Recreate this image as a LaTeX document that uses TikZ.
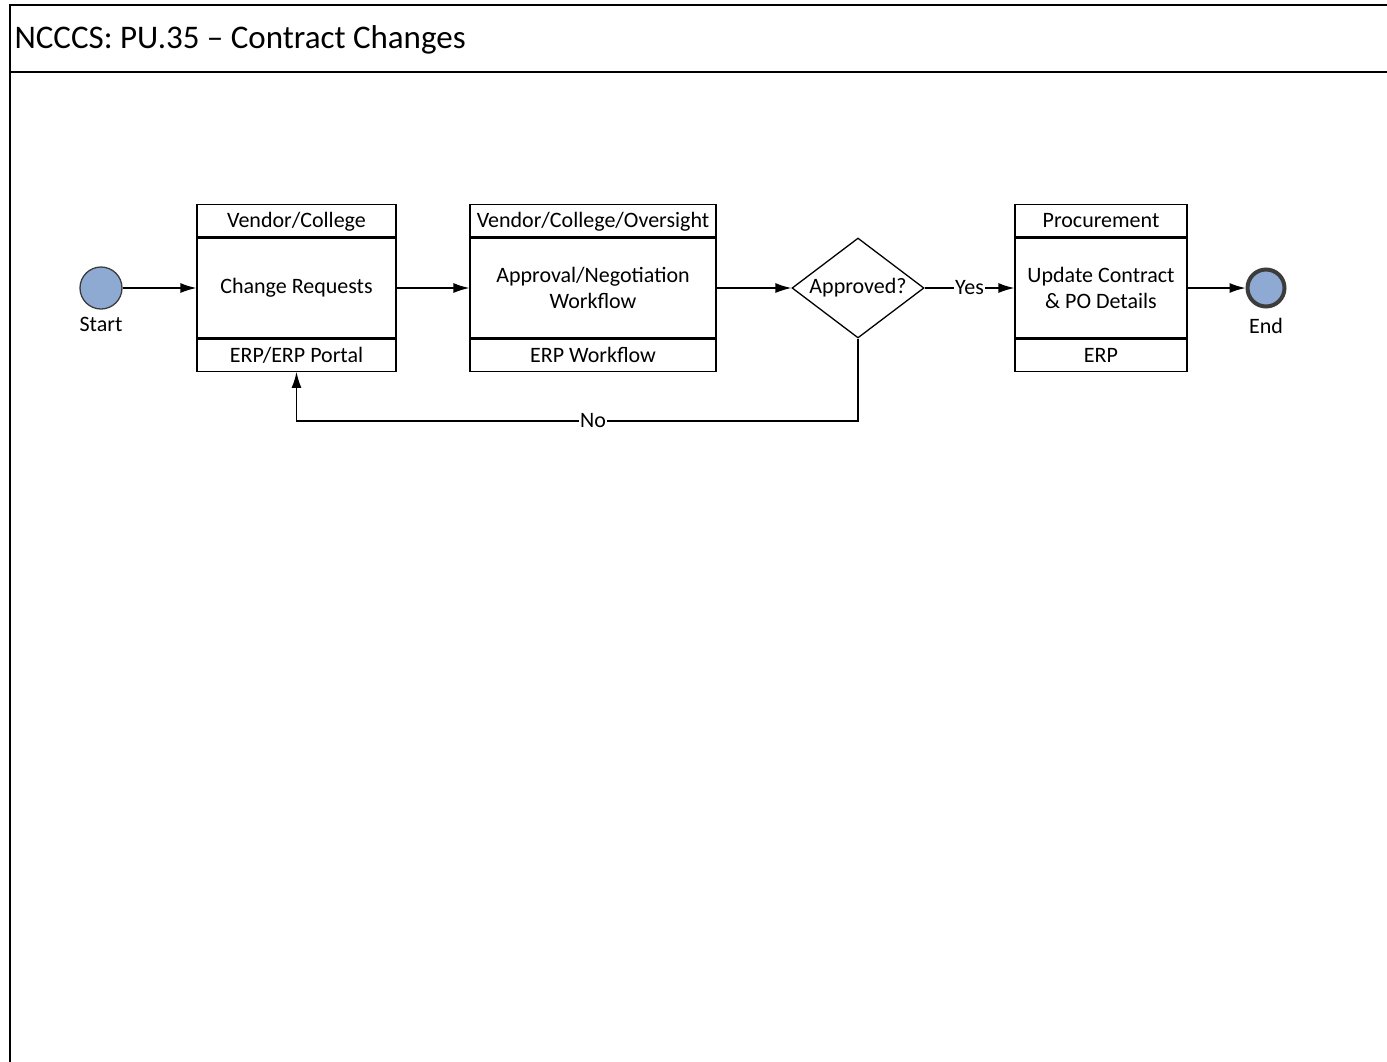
\documentclass[tikz,border=0pt]{standalone}
\usepackage{fontspec}
\setmainfont{Carlito}
\usetikzlibrary{positioning,shapes.geometric,arrows.meta}

\definecolor{evblue}{RGB}{143,170,210}
\definecolor{evrim}{RGB}{60,60,60}

\begin{document}
\begin{tikzpicture}[x=1pt,y=-1pt,
  every node/.style={font=\fontsize{22}{25.5}\selectfont},
  task/.style={draw,line width=1.3pt,minimum height=100pt,inner sep=2pt,align=center},
  band/.style={draw,line width=1.3pt,minimum height=32pt,inner sep=0pt,text height=14pt,text depth=0pt},
  flow/.style={draw,line width=1.3pt,-{Latex[length=16pt,width=10pt]}},
  event/.style={circle,draw,fill=evblue,minimum size=42pt,inner sep=0pt}]
\clip (0,0) rectangle (1387,1061);

% frame and title
\draw[line width=1.5pt,fill=white] (10,5) rectangle (1400,1080);
\draw[line width=2.5pt] (10,5) -- (1400,5);
\draw[line width=1.3pt] (10,72) -- (1400,72);
\node[anchor=west,font=\fontsize{33}{38}\selectfont] (title) at (11,39.5) {NCCCS: PU.35 -- Contract Changes};

% start and end events
\node[event,draw=evrim,line width=1.3pt,label={[label distance=4pt]below:Start}] (start) at (101,288) {};
\node[event,draw=evrim,line width=4pt,minimum size=37pt,label={[label distance=6pt]below:End}] (end) at (1266,288) {};

% tasks with lane header and system footer
\node[task,minimum width=199pt] (cr) at (296.5,288) {Change Requests};
\node[band,minimum width=199pt,above=0pt of cr] (cr-head) {Vendor/College};
\node[band,minimum width=199pt,below=0pt of cr] (cr-foot) {ERP/ERP Portal};
\draw[line width=3pt] (cr.south west) -- (cr.south east);

\node[task,minimum width=246pt] (apv) at (593,288) {Approval/Negotiation\\Workflow};
\node[band,minimum width=246pt,above=0pt of apv] (apv-head) {Vendor/College/Oversight};
\node[band,minimum width=246pt,below=0pt of apv] (apv-foot) {ERP Workflow};
\draw[line width=3pt] (apv.south west) -- (apv.south east);

\node[task,minimum width=172pt] (upd) at (1101,288) {Update Contract\\\& PO Details};
\node[band,minimum width=172pt,above=0pt of upd] (upd-head) {Procurement};
\node[band,minimum width=172pt,below=0pt of upd] (upd-foot) {ERP};
\draw[line width=3pt] (upd.south west) -- (upd.south east);

% decision
\node[diamond,draw,line width=1.3pt,aspect=1.32,inner sep=0pt,minimum width=132pt,minimum height=100pt] (dec) at (858,288) {Approved?};
\coordinate (nobend) at (858,421);

% connectors
\path[flow] (start) -- (cr);
\path[flow] (cr) -- (apv);
\path[flow] (apv) -- (dec);
\path[flow] (dec) -- node[fill=white,inner sep=1pt] {Yes} (upd);
\path[flow] (upd) -- (end);
\path[flow] (dec.south) -- (nobend) -| node[pos=0.236,fill=white,inner sep=1pt] {No} (cr-foot.south);
\end{tikzpicture}
\end{document}
